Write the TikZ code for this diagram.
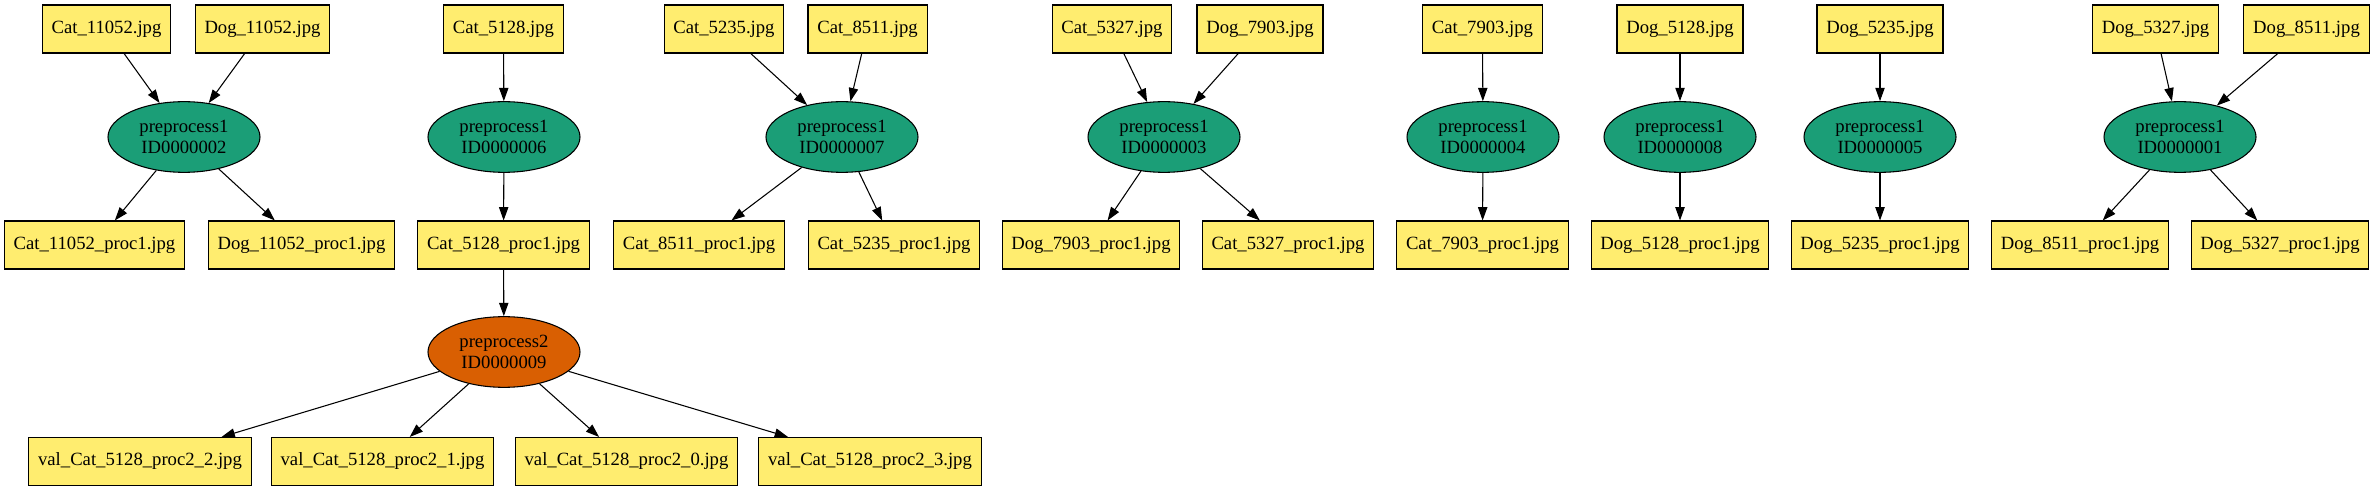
\documentclass[tikz,border=0pt]{standalone}
\usepackage{fontspec}
\setmainfont{Liberation Serif}
\usetikzlibrary{arrows.meta,shapes.geometric}
\definecolor{boxfill}{HTML}{FFED6F}
\definecolor{procgreen}{HTML}{1B9E77}
\definecolor{procorange}{HTML}{D95F02}
\begin{document}
\begin{tikzpicture}[x=0.75pt,y=-0.75pt,
  filebox/.style={draw=black, fill=boxfill, line width=0.8pt, rectangle, minimum height=36pt, inner xsep=7pt, inner ysep=0pt, font=\fontsize{14}{16}\selectfont},
  procnode/.style={draw=black, ellipse, line width=0.8pt, minimum width=114pt, minimum height=53pt, inner sep=0pt, align=center, font=\fontsize{14}{15.5}\selectfont},
  pone/.style={procnode, fill=procgreen},
  ptwo/.style={procnode, fill=procorange},
  conn/.style={-{Triangle[length=10pt,width=7pt]}, line width=0.8pt}
]
\fill[white] (0,0) rectangle (2375,491);
\useasboundingbox (0,0) rectangle (2375,491);

% top row
\node[filebox] (c11052) at (106.5,29) {Cat\_11052.jpg};
\node[filebox] (d11052) at (262.5,29) {Dog\_11052.jpg};
\node[filebox] (c5128) at (503.5,29) {Cat\_5128.jpg};
\node[filebox] (c5235) at (724,29) {Cat\_5235.jpg};
\node[filebox] (c8511) at (867.5,29) {Cat\_8511.jpg};
\node[filebox] (c5327) at (1112,29) {Cat\_5327.jpg};
\node[filebox] (d7903) at (1260,29) {Dog\_7903.jpg};
\node[filebox] (c7903) at (1482.5,29) {Cat\_7903.jpg};
\node[filebox] (d5128) at (1680,29) {Dog\_5128.jpg};
\node[filebox] (d5235) at (1880,29) {Dog\_5235.jpg};
\node[filebox] (d5327) at (2155.5,29) {Dog\_5327.jpg};
\node[filebox] (d8511) at (2306.5,29) {Dog\_8511.jpg};

% process row
\node[pone] (e02) at (184,137) {preprocess1\\ID0000002};
\node[pone] (e06) at (504,137) {preprocess1\\ID0000006};
\node[pone] (e07) at (842,137) {preprocess1\\ID0000007};
\node[pone] (e03) at (1164,137) {preprocess1\\ID0000003};
\node[pone] (e04) at (1483,137) {preprocess1\\ID0000004};
\node[pone] (e08) at (1680,137) {preprocess1\\ID0000008};
\node[pone] (e05) at (1880,137) {preprocess1\\ID0000005};
\node[pone] (e01) at (2180,137) {preprocess1\\ID0000001};

% proc1 row
\node[filebox] (c11052p) at (94.5,245) {Cat\_11052\_proc1.jpg};
\node[filebox] (d11052p) at (301.5,245) {Dog\_11052\_proc1.jpg};
\node[filebox] (c5128p) at (503.5,245) {Cat\_5128\_proc1.jpg};
\node[filebox] (c8511p) at (699,245) {Cat\_8511\_proc1.jpg};
\node[filebox] (c5235p) at (894,245) {Cat\_5235\_proc1.jpg};
\node[filebox] (d7903p) at (1091,245) {Dog\_7903\_proc1.jpg};
\node[filebox] (c5327p) at (1288,245) {Cat\_5327\_proc1.jpg};
\node[filebox] (c7903p) at (1482.5,245) {Cat\_7903\_proc1.jpg};
\node[filebox] (d5128p) at (1680,245) {Dog\_5128\_proc1.jpg};
\node[filebox] (d5235p) at (1880,245) {Dog\_5235\_proc1.jpg};
\node[filebox] (d8511p) at (2080,245) {Dog\_8511\_proc1.jpg};
\node[filebox] (d5327p) at (2280,245) {Dog\_5327\_proc1.jpg};

% preprocess2
\node[ptwo] (e09) at (504,352) {preprocess2\\ID0000009};

% val row
\node[filebox] (v2) at (140,461.5) {val\_Cat\_5128\_proc2\_2.jpg};
\node[filebox] (v1) at (382.5,461.5) {val\_Cat\_5128\_proc2\_1.jpg};
\node[filebox] (v0) at (626.5,461.5) {val\_Cat\_5128\_proc2\_0.jpg};
\node[filebox] (v3) at (870,461.5) {val\_Cat\_5128\_proc2\_3.jpg};

% edges
\draw[conn] (c11052) -- (e02);
\draw[conn] (d11052) -- (e02);
\draw[conn] (e02) -- (c11052p);
\draw[conn] (e02) -- (d11052p);
\draw[conn] (c5128) -- (e06);
\draw[conn] (e06) -- (c5128p);
\draw[conn] (c5128p) -- (e09);
\draw[conn] (e09) -- (v2);
\draw[conn] (e09) -- (v1);
\draw[conn] (e09) -- (v0);
\draw[conn] (e09) -- (v3);
\draw[conn] (c5235) -- (e07);
\draw[conn] (c8511) -- (e07);
\draw[conn] (e07) -- (c8511p);
\draw[conn] (e07) -- (c5235p);
\draw[conn] (c5327) -- (e03);
\draw[conn] (d7903) -- (e03);
\draw[conn] (e03) -- (d7903p);
\draw[conn] (e03) -- (c5327p);
\draw[conn] (c7903) -- (e04);
\draw[conn] (e04) -- (c7903p);
\draw[conn] (d5128) -- (e08);
\draw[conn] (e08) -- (d5128p);
\draw[conn] (d5235) -- (e05);
\draw[conn] (e05) -- (d5235p);
\draw[conn] (d5327) -- (e01);
\draw[conn] (d8511) -- (e01);
\draw[conn] (e01) -- (d8511p);
\draw[conn] (e01) -- (d5327p);
\end{tikzpicture}
\end{document}
